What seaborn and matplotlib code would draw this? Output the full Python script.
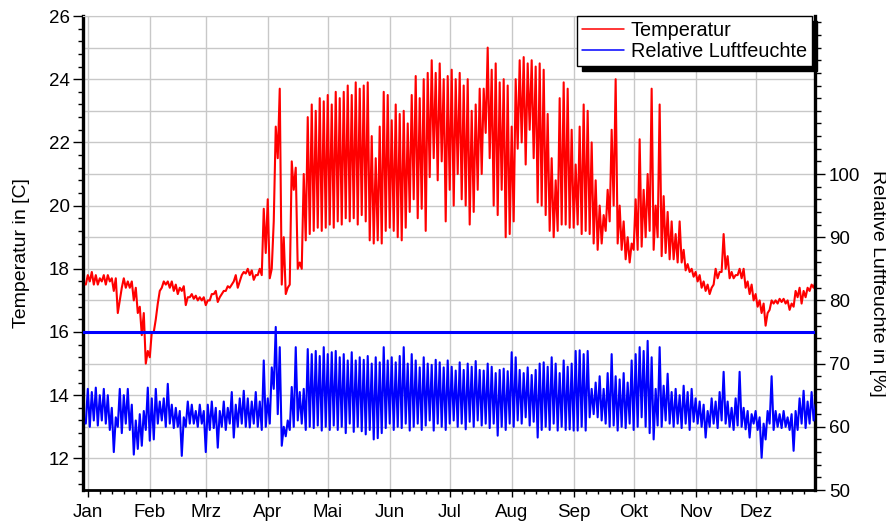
import numpy as np
import pandas as pd
import matplotlib
matplotlib.use("Agg")
import matplotlib.pyplot as plt
from matplotlib.ticker import FixedLocator, NullFormatter
from matplotlib.lines import Line2D
import seaborn as sns

# ===== Data (one low/high pair per 2-day block) =====
month_labels = ["Jan", "Feb", "Mrz", "Apr", "Mai", "Jun",
                "Jul", "Aug", "Sep", "Okt", "Nov", "Dez"]
month_starts = [0, 31, 59, 90, 120, 151, 181, 212, 243, 273, 304, 334]
block_days = list(range(-1, 364, 2))

temp_lo = [
    17.5, 17.6, 17.5, 17.5, 17.6, 17.5, 17.6, 17.3, 16.6, 17.4, 17.4, 17.4, 17.0, 16.6, 15.9,
    15.0, 15.2, 16.0, 16.9, 17.4, 17.5, 17.4, 17.3, 17.2, 17.3, 16.85, 17.1, 17.05, 17.0, 17.0,
    16.85, 17.0, 17.2, 16.95, 17.2, 17.3, 17.4, 17.6, 17.4, 17.8, 17.85, 17.8, 17.65, 17.8, 17.8,
    18.5, 17.7, 19.5, 21.5, 17.5, 17.2, 17.5, 20.5, 18.0, 18.0, 18.9, 19.1, 19.2, 19.3, 19.2,
    19.3, 19.4, 19.3, 19.5, 19.4, 19.6, 19.5, 19.6, 19.4, 19.7, 19.5, 18.9, 18.8, 18.9, 18.8,
    19.2, 19.3, 19.2, 19.0, 18.9, 19.3, 19.8, 20.2, 19.6, 19.9, 19.2, 20.9, 21.5, 20.8, 21.4,
    19.5, 20.5, 20.0, 21.0, 20.2, 20.0, 19.4, 19.8, 20.5, 21.0, 22.3, 21.5, 20.0, 19.7, 20.5,
    19.0, 19.1, 19.5, 21.8, 22.0, 21.3, 22.4, 21.5, 20.1, 20.0, 19.7, 19.2, 19.0, 19.2, 19.4,
    19.4, 19.3, 19.3, 19.4, 19.1, 19.2, 19.1, 18.8, 18.6, 18.8, 19.2, 19.5, 20.0, 18.8, 18.6,
    18.3, 18.2, 18.6, 18.6, 18.7, 19.0, 19.2, 18.6, 19.0, 18.4, 18.5, 18.3, 18.3, 18.2, 18.2,
    17.95, 17.9, 17.75, 17.6, 17.4, 17.3, 17.2, 17.5, 17.7, 17.9, 18.0, 17.7, 17.7, 17.8, 17.7,
    17.4, 17.2, 17.0, 16.8, 16.6, 16.2, 16.7, 16.9, 16.9, 16.95, 16.9, 16.7, 16.8, 17.1, 16.9,
    17.1, 17.3, 17.4,
]
temp_hi = [
    17.8, 17.9, 17.8, 17.7, 17.8, 17.8, 17.7, 17.7, 17.0, 17.7, 17.6, 17.6, 17.4, 16.8, 16.6,
    15.4, 16.0, 16.4, 17.3, 17.6, 17.6, 17.6, 17.5, 17.4, 17.45, 17.1, 17.2, 17.15, 17.1, 17.1,
    17.0, 17.2, 17.3, 17.1, 17.3, 17.45, 17.5, 17.8, 17.6, 17.9, 18.0, 17.95, 17.8, 18.0, 19.9,
    20.2, 18.0, 22.5, 23.7, 19.0, 17.4, 21.4, 21.2, 18.2, 21.0, 22.8, 23.2, 23.0, 23.4, 23.3,
    23.5, 23.2, 23.6, 23.4, 23.6, 23.8, 23.5, 23.9, 23.7, 23.8, 23.9, 22.2, 21.5, 22.5, 23.6,
    23.5, 22.7, 23.2, 22.9, 23.0, 22.6, 23.5, 24.1, 23.4, 24.0, 24.2, 24.6, 24.2, 24.5, 24.0,
    24.1, 24.3, 24.0, 24.2, 23.8, 24.0, 23.0, 23.2, 23.7, 23.7, 25.0, 24.3, 24.5, 23.9, 24.0,
    23.8, 22.5, 24.0, 24.6, 24.7, 24.5, 24.6, 24.4, 24.5, 24.3, 22.9, 21.5, 20.8, 23.4, 23.9,
    23.7, 22.4, 21.3, 22.5, 23.2, 23.0, 22.0, 20.8, 20.0, 19.7, 20.5, 22.4, 24.0, 20.0, 19.5,
    19.0, 18.8, 20.2, 22.1, 20.5, 21.0, 23.7, 20.0, 23.2, 20.3, 19.8, 19.5, 19.1, 19.5, 18.6,
    18.15, 18.0, 17.9, 17.8, 17.6, 17.5, 17.4, 18.0, 17.9, 19.1, 18.4, 17.9, 17.8, 18.0, 18.0,
    17.6, 17.5, 17.2, 17.0, 16.9, 16.6, 17.0, 17.0, 17.05, 17.05, 17.0, 16.9, 17.3, 17.4, 17.3,
    17.4, 17.5, 17.6,
]
hum_lo = [
    60.5, 60.0, 61.0, 60.2, 61.0, 60.5, 59.5, 56.0, 60.0, 59.0, 60.5, 59.5, 55.6, 56.5, 57.0,
    59.5, 57.8, 58.0, 60.5, 61.0, 60.0, 60.5, 59.8, 60.0, 55.4, 60.0, 60.5, 60.5, 60.0, 60.5,
    56.0, 59.5, 59.8, 56.7, 60.0, 59.5, 60.5, 58.3, 60.0, 60.5, 60.0, 59.9, 60.5, 60.0, 59.5,
    60.0, 60.5, 66.0, 62.0, 57.0, 58.5, 59.5, 60.0, 61.0, 60.5, 59.5, 60.0, 59.8, 60.2, 59.4,
    60.0, 59.5, 60.2, 59.5, 60.0, 59.0, 60.5, 59.2, 60.0, 59.3, 58.8, 59.5, 58.0, 58.2, 59.0,
    59.8, 60.5, 59.5, 60.0, 59.8, 60.5, 59.4, 60.0, 60.5, 59.5, 60.2, 61.0, 59.4, 60.5, 60.0,
    59.5, 60.5, 61.0, 60.0, 60.5, 59.6, 60.8, 60.0, 61.0, 60.2, 60.5, 59.8, 60.5, 58.6, 60.0,
    59.5, 60.5, 60.0, 61.0, 60.5, 61.5, 60.2, 60.8, 58.3, 59.5, 60.0, 59.5, 60.5, 59.4, 60.0,
    59.5, 59.6, 59.4, 59.4, 60.0, 59.4, 61.5, 62.0, 61.5, 61.0, 60.5, 60.0, 60.2, 59.4, 60.0,
    59.8, 60.5, 59.5, 60.0, 61.5, 60.0, 59.0, 58.0, 60.2, 60.0, 61.0, 60.5, 60.0, 60.5, 59.8,
    60.5, 59.5, 60.8, 60.5, 60.0, 58.3, 60.0, 60.5, 59.8, 61.0, 60.5, 60.0, 59.5, 60.2, 60.0,
    59.6, 58.3, 60.5, 59.5, 55.1, 58.0, 60.5, 59.5, 60.0, 59.8, 60.0, 59.5, 56.2, 59.5, 60.5,
    59.8, 60.5, 61.0,
]
hum_hi = [
    66.0, 65.5, 66.2, 65.0, 66.0, 65.0, 63.0, 61.5, 66.0, 65.0, 66.0, 63.5, 61.0, 62.0, 62.5,
    66.2, 64.5, 66.0, 64.0, 64.5, 66.8, 63.5, 63.0, 62.5, 61.5, 64.0, 63.5, 62.5, 63.5, 62.5,
    63.5, 64.0, 63.0, 62.5, 64.0, 63.0, 65.5, 63.5, 64.5, 65.7, 64.5, 64.0, 65.5, 64.0, 70.5,
    64.5, 69.4, 75.8, 72.6, 60.0, 61.0, 66.3, 72.6, 65.5, 66.0, 72.3, 71.5, 72.0, 71.2, 72.6,
    71.5, 71.8, 72.0, 71.0, 71.5, 70.5, 71.8, 70.5, 71.0, 70.6, 71.2, 70.0, 71.0, 70.2, 72.6,
    70.5, 71.0, 70.2, 71.2, 72.6, 70.0, 71.5, 70.5, 69.4, 71.0, 70.0, 69.8, 70.6, 70.2, 69.4,
    70.5, 69.5, 68.9, 70.2, 69.0, 70.0, 69.5, 70.4, 69.0, 68.9, 70.0, 69.5, 68.5, 69.0, 69.2,
    68.8, 71.8, 71.0, 69.0, 68.5, 69.4, 68.2, 69.0, 70.0, 70.2, 69.5, 71.0, 70.0, 68.5, 70.5,
    69.5, 70.0, 72.0, 72.1, 71.5, 72.0, 66.0, 67.0, 68.0, 66.0, 68.5, 71.5, 68.0, 67.5, 68.5,
    67.0, 70.5, 71.5, 72.6, 72.0, 73.6, 71.0, 66.0, 72.6, 66.5, 68.4, 65.5, 66.0, 65.0, 66.5,
    65.5, 66.0, 64.5, 64.0, 63.5, 62.5, 64.5, 64.0, 65.5, 68.7, 64.0, 63.0, 64.5, 68.7, 63.0,
    62.5, 62.0, 62.5, 61.5, 60.5, 62.5, 68.0, 62.5, 62.0, 62.5, 61.5, 62.0, 62.5, 64.5, 65.7,
    64.0, 65.5, 63.5,
]
hum_ref = 75

# zigzag: low then high inside each block
rows = []
for d, tlo, thi, hlo, hhi in zip(block_days, temp_lo, temp_hi, hum_lo, hum_hi):
    rows.append((d, tlo, hlo))
    rows.append((d + 1, thi, hhi))
df = pd.DataFrame(rows, columns=["tag", "temperatur", "feuchte"])

# ===== Figure =====
sns.set_style("white")
plt.rcParams["font.family"] = ["Liberation Sans", "DejaVu Sans"]

fig = plt.figure(figsize=(8.86, 5.22), dpi=100)
ax = fig.add_axes([83 / 886, 32 / 522, 732 / 886, 474 / 522])
ax2 = ax.twinx()

grid_c = "#c8c8c8"
for v in np.arange(12, 27):
    ax.axhline(v, color=grid_c, lw=1.0, zorder=0)

sns.lineplot(data=df, x="tag", y="temperatur", ax=ax, color="#ff0000",
             lw=1.5, estimator=None, sort=False, zorder=3)
sns.lineplot(data=df, x="tag", y="feuchte", ax=ax2, color="#0000ff",
             lw=1.5, estimator=None, sort=False, zorder=3)
ax2.axhline(hum_ref, color="#0000ff", lw=2.2, zorder=4)

ax.set_xlim(-2.4, 363.7)
ax.set_ylim(11, 26)
ax2.set_ylim(50, 125)

# x axis
ax.xaxis.set_major_locator(FixedLocator(month_starts))
ax.set_xticklabels(month_labels)
ax.xaxis.set_minor_locator(FixedLocator([m + k for m in month_starts for k in (6, 12, 18, 24)]))
ax.grid(axis="x", which="major", color=grid_c, lw=1.0)
ax.set_axisbelow(True)

# left axis
ax.yaxis.set_major_locator(FixedLocator(np.arange(12, 27, 2)))
ax.yaxis.set_minor_locator(FixedLocator(np.arange(11.2, 26.01, 0.4)))
ax.yaxis.set_minor_formatter(NullFormatter())

# right axis
ax2.yaxis.set_major_locator(FixedLocator(np.arange(50, 101, 10)))
ax2.yaxis.set_minor_locator(FixedLocator(np.arange(52, 125, 2)))
ax2.yaxis.set_minor_formatter(NullFormatter())

ax.tick_params(axis="both", which="both", colors="black", direction="out", width=1)
ax.tick_params(axis="y", which="major", left=True, length=7, labelsize=13.5, pad=2.5)
ax.tick_params(axis="y", which="minor", left=True, length=3.5)
ax.tick_params(axis="x", which="major", bottom=True, length=5, labelsize=13.5, pad=5)
ax.tick_params(axis="x", which="minor", bottom=True, length=3)
ax2.tick_params(axis="y", which="both", colors="black", direction="out", width=1, right=True)
ax2.tick_params(axis="y", which="major", length=7, labelsize=13.5, pad=3)
ax2.tick_params(axis="y", which="minor", length=4)

# spines
ax.spines["left"].set_linewidth(2.4)
ax.spines["bottom"].set_linewidth(2.0)
ax.spines["top"].set_color(grid_c)
ax.spines["right"].set_visible(False)
for s in ("left", "top", "bottom"):
    ax2.spines[s].set_visible(False)
ax2.spines["right"].set_linewidth(2.4)
ax2.spines["right"].set_color("black")
ax.spines["left"].set_color("black")
ax.spines["bottom"].set_color("black")

# labels
ax.set_xlabel("")
ax.set_ylabel("Temperatur in [C]", fontsize=14, color="black", va="center", ha="center")
ax.yaxis.set_label_coords(-0.084, 0.5)
ax2.set_ylabel("Relative Luftfeuchte in [%]", fontsize=14, color="black",
               rotation=270, va="center", ha="center")
ax2.yaxis.set_label_coords(1.086, 0.435)

# legend
handles = [Line2D([], [], color="#ff0000", lw=1.1), Line2D([], [], color="#0000ff", lw=1.1)]
leg = ax2.legend(handles, ["Temperatur", "Relative Luftfeuchte"], loc="upper right",
                 bbox_to_anchor=(0.996, 1.0), borderaxespad=0, fancybox=False,
                 shadow={"ox": 3.5, "oy": -3.5, "color": "black", "alpha": 1},
                 fontsize=14.3, handlelength=2.1, handletextpad=0.35, labelspacing=0.1,
                 borderpad=0.25, edgecolor="black", framealpha=1)
leg.get_frame().set_linewidth(1.0)
for t in leg.get_texts():
    t.set_color("black")

fig.savefig("out.png", dpi=100)
